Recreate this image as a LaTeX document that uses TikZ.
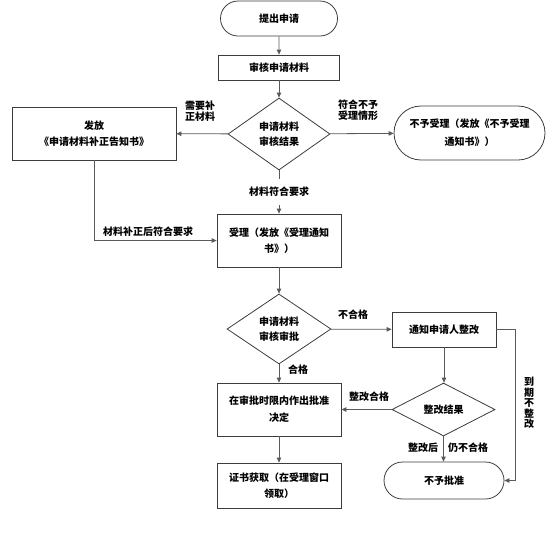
\documentclass[tikz,border=0pt]{standalone}
\usepackage{fontspec}
\usepackage{tikz}
\usetikzlibrary{arrows.meta,shapes.geometric,shapes.misc}
\newfontfamily\cjk{Noto Sans CJK SC}
\newcommand\flowfont{\cjk\bfseries\fontsize{10pt}{16pt}\selectfont}
\newcommand\tightfont{\cjk\bfseries\fontsize{10pt}{10.5pt}\selectfont}
\definecolor{linec}{HTML}{5A5A5A}
\definecolor{boxc}{HTML}{3C3C3C}
\tikzset{
  line/.style={draw=linec, line width=0.8pt},
  arrow/.style={line, -{Triangle[length=5pt,width=4.5pt]}},
  box/.style={draw=boxc, line width=0.8pt, rectangle, align=center,
    inner sep=2pt, minimum width=124pt, minimum height=53pt, font=\flowfont},
  term/.style={box, rounded rectangle},
  dia/.style={draw=boxc, line width=0.8pt, diamond, aspect=1.4,
    inner sep=0pt, align=center, font=\cjk\bfseries\fontsize{10pt}{15pt}\selectfont},
  lbl/.style={text=black, font=\flowfont, inner sep=1pt},
  tlbl/.style={text=black, font=\tightfont, inner sep=0pt, align=left}
}
\begin{document}
\begin{tikzpicture}[x=1pt, y=-1pt]
  \useasboundingbox (0,0) rectangle (554,550);

  % main column
  \node[term, minimum width=121pt, minimum height=35pt] (start) at (279,18.5) {提出申请};
  \node[box, minimum width=121pt, minimum height=25pt] (review) at (279,67.5) {审核申请材料};
  \node[dia, minimum width=102pt, minimum height=72pt] (check) at (279,134) {申请材料\\审核结果};
  \node[box, minimum width=164pt] (notice) at (94,133.5) {发放\\《申请材料补正告知书》};
  \node[term, minimum width=155pt, minimum height=54pt, font=\cjk\bfseries\fontsize{10pt}{18pt}\selectfont]
    (refuse) at (469.5,133) {不予受理（发放《不予受理\\通知书》）};
  \node[box] (accept) at (279,240.5) {受理（发放《受理通知\\书》）};
  \node[dia, minimum width=104pt, minimum height=70pt] (audit) at (279,329) {申请材料\\审核审批};
  \node[box, minimum width=104pt, minimum height=35pt] (notify) at (444,329.5) {通知申请人整改};
  \node[box, font=\cjk\bfseries\fontsize{10pt}{17pt}\selectfont] (approve) at (279,409.5) {在审批时限内作出批准\\决定};
  \node[dia, minimum width=103pt, minimum height=53pt] (result) at (443.5,409.5) {整改结果};
  \node[term, minimum width=124pt, minimum height=37pt] (deny) at (444,480.5) {不予批准};
  \node[box, minimum height=45pt] (cert) at (279,485.5) {证书获取（在受理窗口\\领取）};

  % connectors
  \draw[arrow] (start) -- (review);
  \draw[arrow] (review) -- (check);
  \draw[arrow] (check) -- (notice);
  \draw[arrow] (check) -- (refuse);
  \draw[arrow] (check) -- node[lbl, fill=white, inner ysep=8pt] (ok) {材料符合要求} (accept);
  \draw[arrow] (notice.south) |- (accept.west);
  \draw[arrow] (accept) -- (audit);
  \draw[arrow] (audit) -- (notify);
  \draw[arrow] (audit) -- (approve);
  \draw[arrow] (notify.south) -- (notify.south |- result.north);
  \draw[arrow] (result.west) -- (approve.east);
  \draw[arrow] (result.south) -- (result.south |- deny.north);
  \draw[arrow] (approve) -- (cert);
  \draw[arrow] (notify.east) -- ++(19,0) |- (deny.east);

  % labels
  \node[tlbl, anchor=north west] (needfix) at (185,101) {需要补\\正材料};
  \node[tlbl, anchor=north west] (nofit) at (338,100) {符合不予\\受理情形};
  \node[lbl] (fixed) at (148,232) {材料补正后符合要求};
  \node[lbl] (fail) at (353,315) {不合格};
  \node[lbl] (pass) at (298,370) {合格};
  \node[lbl] (good) at (369,397) {整改合格};
  \node[lbl] (after) at (423,448) {整改后};
  \node[lbl] (still) at (468,448) {仍不合格};
  \node[tlbl, align=center] (expire) at (529,403) {到\\期\\不\\整\\改};
\end{tikzpicture}
\end{document}
